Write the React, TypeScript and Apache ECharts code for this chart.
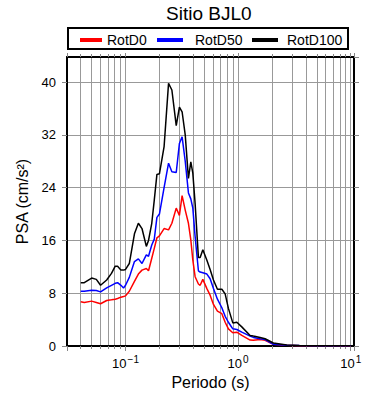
import React, { useEffect, useRef } from 'react';
import * as echarts from 'echarts';

const periods = [
  0.040, 0.043, 0.050, 0.055, 0.060, 0.068, 0.075, 0.081, 0.085, 0.091,
  0.096, 0.100, 0.108, 0.120, 0.130, 0.140, 0.153, 0.160, 0.171, 0.180,
  0.190, 0.200, 0.220, 0.241, 0.258, 0.282, 0.301, 0.318, 0.339, 0.362,
  0.380, 0.396, 0.415, 0.444, 0.460, 0.486, 0.528, 0.564, 0.604, 0.655,
  0.717, 0.767, 0.820, 0.897, 0.974, 1.078, 1.278, 1.367, 1.567, 1.736,
  2.057, 2.700, 3.500, 5.000, 7.000, 10.00,
];

const rotD0 = [
  6.7, 6.6, 6.8, 6.6, 6.4, 6.9, 7.0, 7.1, 7.2, 7.4,
  7.5, 7.6, 8.3, 9.8, 10.9, 11.5, 11.75, 11.4, 13.3, 14.8,
  16.4, 16.7, 17.8, 17.6, 18.6, 20.9, 19.8, 22.8, 20.6, 18.6,
  16.1, 13.0, 10.5, 9.4, 9.2, 10.1, 8.7, 7.7, 6.3, 5.3,
  4.9, 3.6, 2.6, 2.0, 2.1, 1.6, 0.9, 0.87, 1.0, 0.87,
  0.26, 0.10, 0.05, 0.03, 0.02, 0.01,
];

const rotD50 = [
  8.3, 8.3, 8.45, 8.4, 8.2, 8.8, 9.2, 9.5, 9.6, 9.2,
  8.8, 9.2, 10.4, 12.8, 13.2, 12.5, 13.8, 13.6, 15.3, 16.2,
  19.5, 20.0, 24.0, 27.7, 26.4, 26.3, 30.7, 31.7, 28.0, 23.2,
  22.3, 20.9, 16.6, 11.4, 11.2, 11.1, 10.9, 10.2, 8.7, 7.1,
  5.8, 4.5, 3.6, 2.6, 2.5, 2.1, 1.5, 1.3, 1.1, 0.97,
  0.26, 0.12, 0.07, 0.05, 0.03, 0.02,
];

const rotD100 = [
  9.6, 9.6, 10.3, 10.1, 9.2, 10.0, 11.0, 12.1, 12.1, 11.5,
  11.5, 11.6, 12.5, 17.0, 18.6, 17.8, 15.1, 16.0, 18.6, 22.1,
  26.0, 26.1, 30.2, 39.8, 38.8, 33.4, 36.2, 35.5, 32.0, 25.4,
  27.9, 26.2, 21.6, 13.4, 13.4, 14.6, 13.0, 11.6, 10.0, 8.6,
  8.6, 7.9, 5.7, 3.5, 3.6, 2.9, 1.6, 1.5, 1.3, 1.1,
  0.46, 0.15, 0.08, 0.05, 0.03, 0.02,
];

const seriesNames = ['RotD0', 'RotD50', 'RotD100'];
const seriesColors = ['#ff0000', '#0000ff', '#000000'];
const seriesValues = [rotD0, rotD50, rotD100];

const X_MIN = 0.0302;
const X_MAX = 10.7;
const Y_MIN = 0;
const Y_MAX = 43.8;
const Y_INTERVAL = 8;

const FONT = "'Liberation Sans', Arial, Helvetica, sans-serif";

function powerLabel(v: number): string {
  const e = Math.round(Math.log10(v));
  if (Math.abs(v / Math.pow(10, e) - 1) > 1e-6) return '';
  const exp = e < 0 ? '\u2212' + -e : String(e);
  return `{b|10}{s|${exp}}`;
}

function yLabel(v: number): string {
  if (Math.abs(v / Y_INTERVAL - Math.round(v / Y_INTERVAL)) > 1e-6) return '';
  return String(Math.round(v));
}

const gridLine = { color: '#999', width: 1 };
const tickLine = { color: '#888', width: 1 };
const frameLine = { color: '#000', width: 2 };

function legendFor(name: string, left: number, w: number, pad: number) {
  return {
    data: [name],
    left,
    top: 33,
    padding: 0,
    itemWidth: w,
    itemHeight: 4,
    icon: 'rect',
    selectedMode: false,
    z: 10,
    itemStyle: { borderWidth: 0 },
    textStyle: {
      fontFamily: FONT,
      fontSize: 14,
      lineHeight: 14,
      color: '#000',
      padding: [0, 0, 0, pad],
    },
  };
}

export default function App() {
  const ref = useRef<HTMLDivElement>(null);

  useEffect(() => {
    if (!ref.current) return;
    const chart = echarts.init(ref.current, undefined, { renderer: 'svg' });

    const option: any = {
      animation: false,
      backgroundColor: '#fff',
      title: {
        text: 'Sitio BJL0',
        left: 166,
        top: 4,
        padding: 0,
        textStyle: { fontFamily: FONT, fontSize: 19, fontWeight: 'normal', color: '#000' },
      },
      graphic: [
        {
          type: 'rect',
          z: 1,
          shape: { x: 68, y: 28, width: 280, height: 21 },
          style: { fill: '#fff', stroke: '#000', lineWidth: 2 },
        },
      ],
      legend: [
        legendFor('RotD0', 80, 22, 0),
        legendFor('RotD50', 157, 26, 7),
        legendFor('RotD100', 252, 26, 4),
      ],
      grid: { left: 67, right: 36, top: 57, bottom: 54 },
      xAxis: [
        {
          type: 'log',
          logBase: 10,
          min: X_MIN,
          max: X_MAX,
          position: 'bottom',
          axisLine: { show: true, onZero: false, lineStyle: frameLine },
          axisTick: { show: true, length: 5, lineStyle: tickLine },
          minorTick: { show: true, splitNumber: 9, length: 3, lineStyle: tickLine },
          splitLine: { show: true, lineStyle: gridLine },
          minorSplitLine: { show: true, lineStyle: gridLine },
          axisLabel: {
            formatter: powerLabel,
            margin: 8,
            color: '#000',
            fontFamily: FONT,
            rich: {
              b: { fontSize: 13, fontFamily: FONT, color: '#000' },
              s: { fontSize: 10, fontFamily: FONT, color: '#000', padding: [0, 0, 8, 1] },
            },
          },
          name: 'Periodo (s)',
          nameLocation: 'middle',
          nameGap: 28,
          nameTextStyle: { fontFamily: FONT, fontSize: 16, color: '#000' },
        },
        {
          type: 'log',
          logBase: 10,
          min: X_MIN,
          max: X_MAX,
          position: 'top',
          axisLine: { show: true, onZero: false, lineStyle: frameLine },
          axisTick: { show: true, length: 4, lineStyle: tickLine },
          minorTick: { show: true, splitNumber: 9, length: 3, lineStyle: tickLine },
          splitLine: { show: false },
          axisLabel: { show: false },
        },
      ],
      yAxis: [
        {
          type: 'value',
          min: Y_MIN,
          max: Y_MAX,
          interval: Y_INTERVAL,
          position: 'left',
          axisLine: { show: true, onZero: false, lineStyle: frameLine },
          axisTick: { show: true, length: 5, lineStyle: tickLine },
          splitLine: { show: true, lineStyle: gridLine },
          axisLabel: {
            formatter: yLabel,
            margin: 11,
            color: '#000',
            fontFamily: FONT,
            fontSize: 13,
            showMaxLabel: false,
          },
          name: 'PSA (cm/s\u00B2)',
          nameLocation: 'middle',
          nameGap: 29,
          nameTextStyle: { fontFamily: FONT, fontSize: 16, color: '#000' },
        },
        {
          type: 'value',
          min: Y_MIN,
          max: Y_MAX,
          interval: Y_INTERVAL,
          position: 'right',
          axisLine: { show: true, onZero: false, lineStyle: frameLine },
          axisTick: { show: true, length: 5, lineStyle: tickLine },
          splitLine: { show: false },
          axisLabel: { show: false },
        },
      ],
      series: seriesNames.map((name, k) => ({
        type: 'line',
        name,
        xAxisIndex: 0,
        yAxisIndex: 0,
        color: seriesColors[k],
        showSymbol: false,
        symbol: 'none',
        silent: true,
        z: 3 + k,
        lineStyle: { width: 1.5, color: seriesColors[k] },
        itemStyle: { color: seriesColors[k] },
        data: periods.map((p, i) => [p, seriesValues[k][i]]),
      })),
    };

    chart.setOption(option);
    return () => chart.dispose();
  }, []);

  return (
    <div
      ref={ref}
      style={{ position: 'fixed', left: 0, top: 0, width: 390, height: 400 }}
    />
  );
}
